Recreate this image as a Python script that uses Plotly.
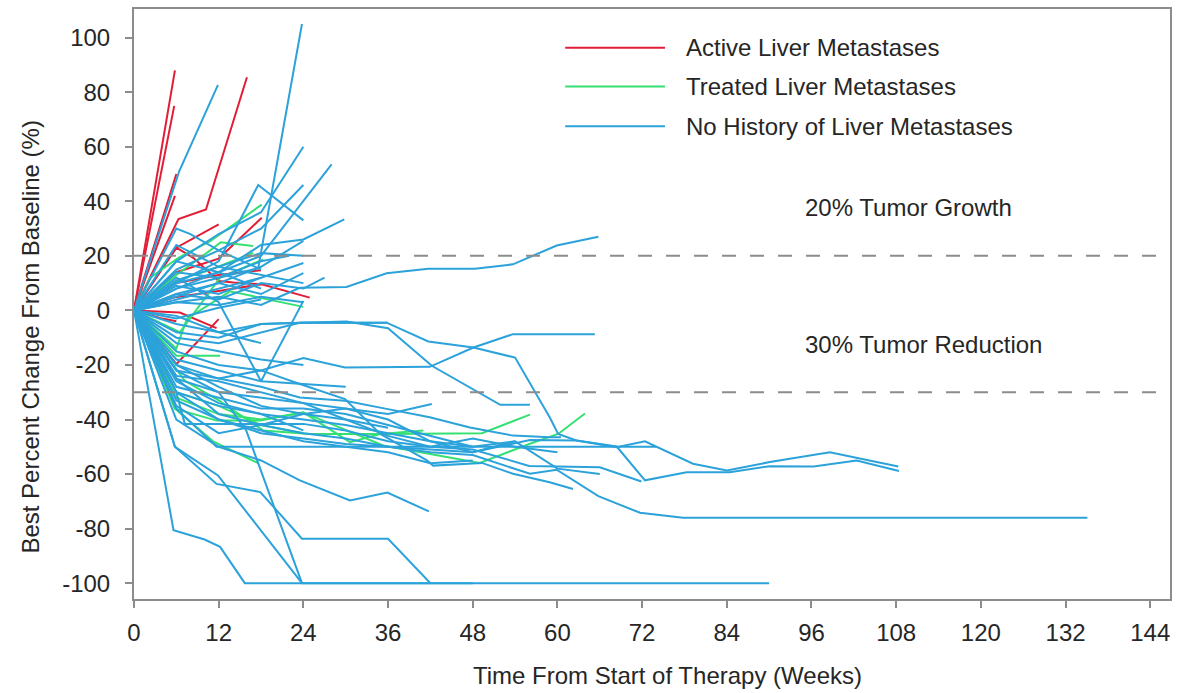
import plotly.graph_objects as go

# Spider plot: best percent change in tumour size over time, one line per patient.

# Active liver metastases (weeks, percent change)
active_weeks = [
    [0, 5.8], [0, 5.7], [0, 6], [0, 5.8],
    [0, 6.3, 10.2, 16], [0, 6, 12], [0, 6, 8.4, 12, 14.1, 18],
    [0, 6, 12, 18], [0, 5.6, 12, 18.1, 24.9], [0, 6.5, 11.7],
    [0, 4, 6], [0, 6, 12], [0, 6, 12, 18.1],
]
active_pct = [
    [0, 88], [0, 75], [0, 50], [0, 42],
    [0, 33.5, 37, 85.5], [0, 23, 31.5], [0, 23, 19.3, 10.8, 10.2, 9.6],
    [0, 10, 13, 14.7], [0, 4.7, 7.1, 9.6, 4.7], [0, -0.8, -6.5],
    [0, -3, -4], [0, -19.7, -3.2], [0, 14, 19, 34],
]

# Treated liver metastases
treated_weeks = [
    [0, 2.3, 6.3, 10.8, 18.1], [0, 6, 10.8, 12.3, 16.9], [0, 6.5, 10.3, 16.9],
    [0, 6, 7.5, 13.6, 24], [0, 6, 12.2], [0, 5.8, 11.2, 17.6],
    [0, 7.2, 12, 18.3, 24.9, 36, 49.3, 56.1],
    [0, 5.8, 11.7, 17.9, 24, 30.6, 34.9, 41],
    [0, 6, 12, 18, 24, 35.3, 49, 56.1, 60.1, 63.9],
    [0, 6.5, 12.2, 18.3],
    [0, 6, 12, 18, 24],
]
treated_pct = [
    [0, 12, 19.3, 25.4, 38.8], [0, 13, 22, 25, 23.6], [0, 11.4, 14.4, 21.1],
    [0, -14, -3, 7, 1.3], [0, -16.6, -16.6], [0, -36, -48, -56],
    [0, -25.8, -33, -44, -45.3, -45.3, -45, -38.2],
    [0, -36, -40.4, -40.4, -37.4, -48.3, -45.3, -44],
    [0, -32, -38, -40, -37.4, -49.5, -55.9, -48.9, -45.3, -37.8],
    [0, -8, 12, 18.7],
    [0, -30, -35, -42, -45],
]

# No history of liver metastases
none_weeks = [
    [0, 6.4, 11.9], [0, 6, 12, 17.6, 23.8], [0, 6, 12, 18, 24], [0, 6, 12, 18, 24],
    [0, 6, 12, 17.6, 24], [0, 6, 12, 18, 28], [0, 6, 12, 18, 24, 29.8],
    [0, 6, 12, 18, 24], [0, 6, 12, 18, 24], [0, 6, 12, 18, 24, 27], [0, 6, 12, 18, 24],
    [0, 6, 12, 18, 23.5, 30.1, 35.8, 41.7, 48.3, 53.7, 59.9, 65.8],
    [0, 6, 8, 12, 18], [0, 6, 12, 18, 24], [0, 6, 12, 18, 24], [0, 6, 12, 18],
    [0, 6, 12, 18, 23.5, 30.1, 36, 42.2, 51.9, 56.1],
    [0, 6, 12, 18, 23.5, 35.8, 41.7, 48.1, 54, 58.9, 60.1, 62.7, 68.4, 72.4, 79.2, 84, 90.1, 98.6, 108.3],
    [0, 6, 12, 18, 24, 29.9, 41.9, 48.1, 53.7, 65.3],
    [0, 6, 12, 18, 23.5, 29.9, 34.9, 41.5, 42.4, 49.3, 53.7, 58.9, 62.2],
    [0, 6, 12, 18, 23.5, 29.9, 35.8, 41.9, 47.6, 53.7, 58.9, 60.5],
    [0, 6, 12, 18, 24, 30, 36, 42.2],
    [0, 6, 12, 18, 24, 30, 36, 42, 48, 56.1, 62.7, 68.4, 72.4, 78.3, 84.4, 90.1, 96.3, 102.4, 108.4],
    [0, 6, 12, 18, 24, 30, 36, 42, 48, 56.1, 59.9, 65.8, 71.7, 77.8, 135.1],
    [0, 6, 11.7, 74],
    [0, 6, 7.2, 24, 30, 36, 42, 48, 56, 66, 71.9],
    [0, 5.8, 11.9, 23.8],
    [0, 6, 12, 18, 23.5, 30.6, 35.9, 41.8],
    [0, 5.8, 11.7, 17.9, 23.8, 36, 42, 90],
    [0, 5.6, 10, 12.2, 15.7, 48],
    [0, 6, 12, 15.9, 23.8, 42],
    [0, 6, 12, 18, 24, 30, 36, 42, 48, 54, 60, 66],
    [0, 6, 12, 18, 24, 30, 36, 42, 48],
    [0, 6, 12, 18, 24, 30, 36, 42, 48, 54, 60],
    [0, 6, 12, 18, 24, 30, 36, 42, 48],
    [0, 6, 12, 18, 24, 30, 36, 42, 48, 54],
    [0, 6, 12, 18, 24, 36], [0, 6, 12, 18, 24, 30], [0, 6, 12, 18, 24],
    [0, 6, 12, 18, 22], [0, 6, 12, 18], [0, 6, 12, 18, 24], [0, 6, 12, 18],
    [0, 6, 12, 18, 24, 30, 36], [0, 6, 12, 18, 24], [0, 6, 12, 18], [0, 6, 12, 18, 24],
]
none_pct = [
    [0, 51, 82.7], [0, 8, 12, 15.5, 105], [0, 18, 28, 36, 60], [0, 15, 22, 30, 46],
    [0, 10, 18, 46, 33], [0, 10, 14, 20, 53.5], [0, 8, 14, 24, 26, 33.4],
    [0, 6, 10, 16, 25.5], [0, 4, 8, 12, 17.4], [0, 6, 4, 10, 8, 12], [0, 5, 10, 6, 13.7],
    [0, 3, 5, 2, 8.3, 8.6, 13.6, 15.3, 15.3, 16.9, 23.8, 27],
    [0, 30, 28, 22, 15], [0, 24, 16, 21, 20], [0, 12, 3, -26, 3.5], [0, -2, -8, -12],
    [0, -10, -12, -8, -4.5, -4.1, -6.5, -20.3, -34.6, -34.6],
    [0, -5, -8, -5, -4.5, -4.5, -11.4, -13.6, -17.3, -39.2, -45.3, -47.7, -50.2, -48, -56.2, -58.7, -55.6, -52, -57.2],
    [0, -22, -25, -22, -17.5, -20.9, -20.7, -13.6, -8.7, -8.7],
    [0, -15, -20, -22, -27, -32.5, -45.3, -55, -56.9, -55.9, -59.9, -63, -65.5],
    [0, -20, -25, -28, -31.9, -33.1, -36.1, -39.2, -42.9, -45.9, -46.5, -46.5],
    [0, -25, -30, -32, -34, -36, -38, -34.3],
    [0, -30, -40, -45, -47, -49, -50, -51, -52, -47.5, -47.7, -49.9, -62.3, -59.3, -59.3, -57.1, -57.2, -55, -58.9],
    [0, -25, -38, -42, -45, -47, -50, -52, -53, -59.9, -58.4, -68.1, -74.2, -76, -76],
    [0, -36, -50, -50],
    [0, -30, -41.6, -41.6, -44, -48, -50, -51, -57, -57.5, -62.7],
    [0, -50, -60.5, -100],
    [0, -40, -50, -55, -62.3, -69.7, -66.8, -73.7],
    [0, -50, -63.6, -66.6, -83.7, -83.7, -100, -100],
    [0, -80.6, -84, -86.7, -100, -100],
    [0, -22, -30, -44, -100, -100],
    [0, -30, -35, -38, -40, -42, -45, -48, -52, -48, -58, -60],
    [0, -28, -32, -36, -36, -38, -42, -46, -50],
    [0, -24, -26, -30, -34, -40, -46, -50, -47, -50, -52],
    [0, -33, -40, -44, -48, -50, -52, -56, -55],
    [0, -35, -45, -42, -38, -36, -40, -48, -50, -48],
    [0, -8, -10, -5, -4.5, -4.5], [0, -18, -22, -26, -27, -28], [0, -12, -15, -18, -20],
    [0, 14, 12, 18, 20], [0, 9, 6, 12], [0, 3, 2, 5, 3], [0, -3, 1, 4],
    [0, -20, -28, -35, -38, -40, -43], [0, -26, -34, -38, -44], [0, 18, 14, 8], [0, 11, 16, 13, 10],
]

groups = [
    ("Active Liver Metastases", "#E21E37", active_weeks, active_pct),
    ("Treated Liver Metastases", "#34E071", treated_weeks, treated_pct),
    ("No History of Liver Metastases", "#2CA2DA", none_weeks, none_pct),
]

x_ticks = list(range(0, 145, 12))
y_ticks = list(range(-100, 101, 20))
y_tick_text = [str(v) for v in y_ticks]

growth_threshold = 20
reduction_threshold = -30

FONT = "Liberation Sans, Arial, sans-serif"
TEXT = "#262626"
AXIS = "#8c8c8c"

fig = go.Figure()
for name, color, wk_list, pct_list in groups:
    for wk, pct in zip(wk_list, pct_list):
        fig.add_trace(go.Scatter(
            x=wk, y=pct, mode="lines", name=name, legendgroup=name,
            line=dict(color=color, width=2), showlegend=False, hoverinfo="skip",
        ))

for level in (growth_threshold, reduction_threshold):
    fig.add_shape(type="line", xref="paper", x0=0, x1=1, yref="y", y0=level, y1=level,
                  line=dict(color="#8c8c8c", width=2, dash="14px,14px"), layer="above")

fig.add_annotation(x=94.8, y=37.8, xref="x", yref="y", text="20% Tumor Growth",
                   showarrow=False, xanchor="left", yanchor="middle",
                   font=dict(size=24, color=TEXT, family=FONT))
fig.add_annotation(x=94.8, y=-12.6, xref="x", yref="y", text="30% Tumor Reduction",
                   showarrow=False, xanchor="left", yanchor="middle",
                   font=dict(size=24, color=TEXT, family=FONT))

# Hand-drawn legend block
legend_rows = [0.9343, 0.8687, 0.8013]
for (name, color, _, _), ypos in zip(groups, legend_rows):
    fig.add_shape(type="line", xref="paper", yref="paper", x0=0.4162, x1=0.5125,
                  y0=ypos, y1=ypos, line=dict(color=color, width=2))
    fig.add_annotation(x=0.5308, y=ypos, xref="paper", yref="paper", text=name,
                       showarrow=False, xanchor="left", yanchor="middle",
                       font=dict(size=24, color=TEXT, family=FONT))

fig.add_annotation(x=0.5145, y=-0.1296, xref="paper", yref="paper",
                   text="Time From Start of Therapy (Weeks)", showarrow=False,
                   xanchor="center", yanchor="middle",
                   font=dict(size=24, color=TEXT, family=FONT))
fig.add_annotation(x=-0.0996, y=0.4444, xref="paper", yref="paper",
                   text="Best Percent Change From Baseline (%)", showarrow=False, textangle=-90,
                   xanchor="center", yanchor="middle",
                   font=dict(size=24, color=TEXT, family=FONT))

fig.update_xaxes(range=[0, 146.8], tickvals=x_ticks, ticks="outside", ticklen=7, tickwidth=2,
                 tickcolor=AXIS, showline=True, linecolor=AXIS, linewidth=2, mirror=True,
                 showgrid=False, zeroline=False, tickfont=dict(size=24, color=TEXT, family=FONT),
                 ticklabelstandoff=4)
fig.update_yaxes(range=[-105.8, 110.5], tickvals=y_ticks, ticktext=y_tick_text, ticks="outside",
                 ticklen=7, tickwidth=2, tickcolor=AXIS, showline=True, linecolor=AXIS, linewidth=2,
                 mirror=True, showgrid=False, zeroline=False,
                 tickfont=dict(size=24, color=TEXT, family=FONT), ticklabelstandoff=10)

fig.update_layout(width=1196, height=693, margin=dict(l=134, r=26, t=7, b=94),
                  paper_bgcolor="white", plot_bgcolor="white", showlegend=False)

fig.write_html("out.html")
